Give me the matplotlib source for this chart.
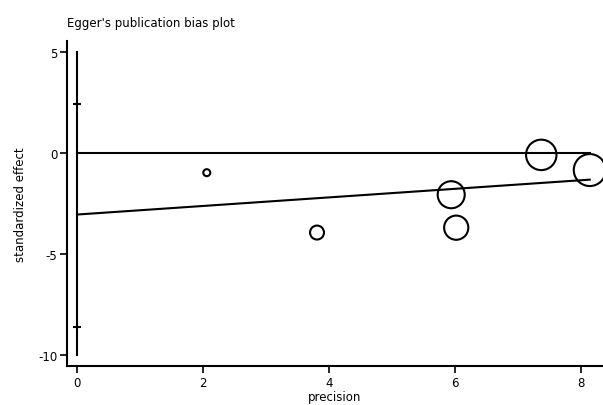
import matplotlib.pyplot as plt
import numpy as np

plt.rcParams['axes.unicode_minus'] = False

# study data
precision = [2.06, 3.81, 5.94, 6.02, 7.37, 8.14]
std_effect = [-0.98, -3.94, -2.07, -3.70, -0.10, -0.85]
weight = [1, 4, 15, 12, 19, 21]

# Egger regression fit
intercept = -3.05
slope = 0.212
ci_low, ci_high = -8.62, 2.41

x_ticks = [0, 2, 4, 6, 8]
y_ticks = [-10, -5, 0, 5]

fig = plt.figure(figsize=(6.03, 4.06), dpi=100)
ax = fig.add_axes([0.111, 0.096, 0.889, 0.801])

xmax = max(precision)

# vertical line through the intercept with CI marks
ax.plot([0, 0], [5, -10], color='black', lw=1.5)
ax.plot([0, 0], [ci_low, ci_high], ls='none', marker='_', ms=6, mew=1.5, color='black')

# zero line and fitted line
ax.plot([0, xmax], [0, 0], color='black', lw=1.5)
xs = np.array([0, xmax])
ax.plot(xs, intercept + slope * xs, color='black', lw=1.5)

# marker area proportional to weight
diam_px = 32 * np.sqrt(np.array(weight) / max(weight))
sizes = (diam_px * 0.72) ** 2
ax.scatter(precision, std_effect, s=sizes, facecolors='none', edgecolors='black',
           linewidths=1.5, zorder=3)

ax.set_xlim(-0.16, 8.35)
ax.set_ylim(-10.54, 5.54)
ax.set_xticks(x_ticks)
ax.set_yticks(y_ticks)
for s in ['top', 'right']:
    ax.spines[s].set_visible(False)
ax.spines['left'].set_linewidth(1.5)
ax.spines['bottom'].set_linewidth(1.5)
ax.tick_params(length=5, width=1.2, labelsize=8.5, pad=2)

ax.set_xlabel('precision', fontsize=8.5, labelpad=1)
ax.set_ylabel('standardized effect', fontsize=8.5, labelpad=8)
fig.text(0.111, 0.942, "Egger's publication bias plot", fontsize=8.5, ha='left', va='center')

fig.savefig('out.png', dpi=100)
